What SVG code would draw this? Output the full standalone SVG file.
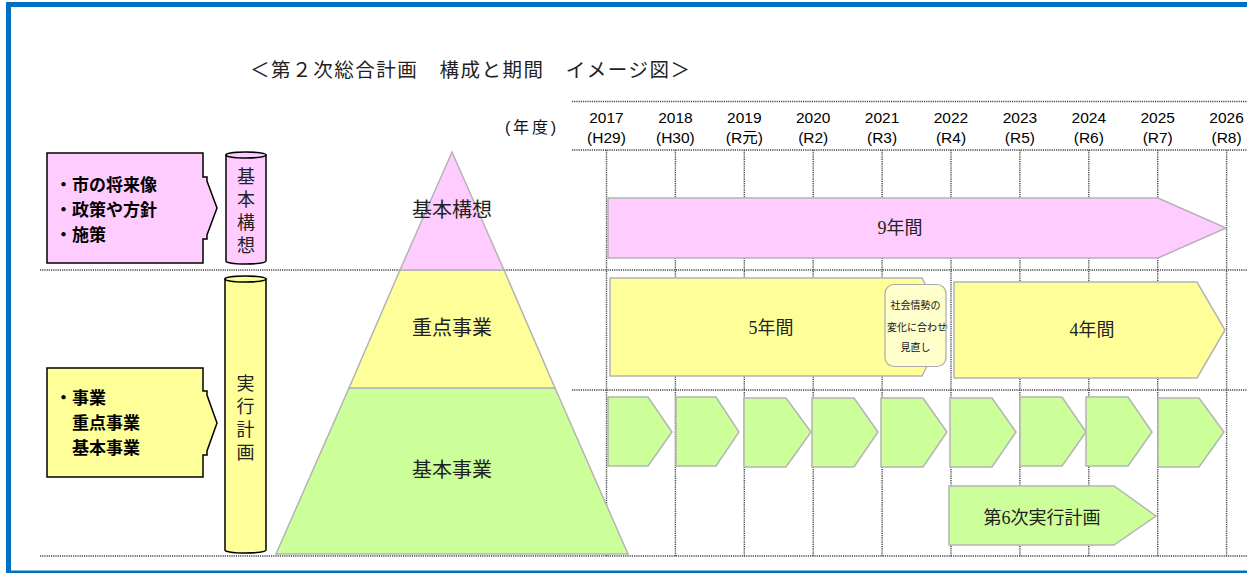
<svg xmlns="http://www.w3.org/2000/svg" width="1247" height="573" viewBox="0 0 1247 573">
<style>
.grid{stroke:#444;stroke-width:1.4;stroke-dasharray:1.2 1;fill:none}
.sh{stroke:#b4b4b4;stroke-width:1.5}
.pink{fill:#ffccff}.yel{fill:#ffff99}.grn{fill:#ccff99}
.box{stroke:#000;stroke-width:1.5}
.min{font-family:"Liberation Serif","Noto Sans CJK JP",serif;fill:#222}
.goth{font-family:"Liberation Sans","Noto Sans CJK JP",sans-serif;fill:#111}
.yr{font-family:"Liberation Sans","Noto Sans CJK JP",sans-serif;font-size:15.5px;fill:#000;text-anchor:middle}
.bold{font-family:"Noto Sans CJK JP",sans-serif;font-weight:700;font-size:17px;fill:#000}
.mid{text-anchor:middle}
</style>
<rect x="8.5" y="4.5" width="1300" height="568.5" fill="#fff" stroke="#0070c0" stroke-width="5"/>
<text id="title" class="min" x="250" y="77" font-size="19.5" textLength="440" lengthAdjust="spacing">＜第２次総合計画　構成と期間　イメージ図＞</text>
<text id="nendo" class="goth" x="505" y="133" font-size="16" fill="#333" textLength="51" lengthAdjust="spacing">(年度)</text>
<g id="grid">
<line class="grid" x1="572" y1="101.5" x2="1247" y2="101.5"/>
<line class="grid" x1="572" y1="150" x2="1247" y2="150"/>
<line class="grid" x1="40" y1="270" x2="1247" y2="270"/>
<line class="grid" x1="572" y1="390" x2="1247" y2="390"/>
<line class="grid" x1="40" y1="556" x2="1247" y2="556"/>
<line class="grid" x1="606.5" y1="150" x2="606.5" y2="556"/>
<line class="grid" x1="675.4" y1="150" x2="675.4" y2="556"/>
<line class="grid" x1="744.3" y1="150" x2="744.3" y2="556"/>
<line class="grid" x1="813.2" y1="150" x2="813.2" y2="556"/>
<line class="grid" x1="882.1" y1="150" x2="882.1" y2="556"/>
<line class="grid" x1="951" y1="150" x2="951" y2="556"/>
<line class="grid" x1="1019.9" y1="150" x2="1019.9" y2="556"/>
<line class="grid" x1="1088.8" y1="150" x2="1088.8" y2="556"/>
<line class="grid" x1="1157.7" y1="150" x2="1157.7" y2="556"/>
<line class="grid" x1="1226.6" y1="150" x2="1226.6" y2="556"/>
</g>
<g id="years">
<text class="yr" x="606.5" y="123">2017</text><text class="yr" x="606.5" y="143">(H29)</text>
<text class="yr" x="675.4" y="123">2018</text><text class="yr" x="675.4" y="143">(H30)</text>
<text class="yr" x="744.3" y="123">2019</text><text class="yr" x="744.3" y="143">(R元)</text>
<text class="yr" x="813.2" y="123">2020</text><text class="yr" x="813.2" y="143">(R2)</text>
<text class="yr" x="882.1" y="123">2021</text><text class="yr" x="882.1" y="143">(R3)</text>
<text class="yr" x="951" y="123">2022</text><text class="yr" x="951" y="143">(R4)</text>
<text class="yr" x="1019.9" y="123">2023</text><text class="yr" x="1019.9" y="143">(R5)</text>
<text class="yr" x="1088.8" y="123">2024</text><text class="yr" x="1088.8" y="143">(R6)</text>
<text class="yr" x="1157.7" y="123">2025</text><text class="yr" x="1157.7" y="143">(R7)</text>
<text class="yr" x="1226.6" y="123">2026</text><text class="yr" x="1226.6" y="143">(R8)</text>
</g>
<g id="box-kihonkoso">
<path class="pink box" d="M47,153 H203 V177 H207 V181 L217,208 L207,235 V239 H203 V263 H47 Z"/>
<text class="bold" x="55" y="191">・市の将来像</text>
<text class="bold" x="55" y="216">・政策や方針</text>
<text class="bold" x="55" y="241">・施策</text>
</g>
<g id="box-jikko">
<path class="yel box" d="M47,368 H203 V391 H207 V395 L217,423 L207,451 V455 H203 V477 H47 Z"/>
<text class="bold" x="55" y="404">・事業</text>
<text class="bold" x="72" y="429">重点事業</text>
<text class="bold" x="72" y="454">基本事業</text>
</g>
<g id="cyl-kihonkoso">
<path class="pink box" d="M226,155 V261 A20,3 0 0 0 266,261 V155 Z"/>
<ellipse class="pink box" cx="246" cy="155" rx="20" ry="3"/>
<text class="min mid" font-size="18" fill="#333"><tspan x="246" y="183">基</tspan><tspan x="246" y="206">本</tspan><tspan x="246" y="229">構</tspan><tspan x="246" y="252">想</tspan></text>
</g>
<g id="cyl-jikko">
<path class="yel box" d="M225,279 V550 A20.5,3 0 0 0 266,550 V279 Z"/>
<ellipse class="yel box" cx="245.5" cy="279" rx="20.5" ry="3"/>
<text class="min mid" font-size="18" fill="#333"><tspan x="245.5" y="390">実</tspan><tspan x="245.5" y="413">行</tspan><tspan x="245.5" y="436">計</tspan><tspan x="245.5" y="459">画</tspan></text>
</g>
<g id="pyramid">
<polygon class="grn sh" points="349,388 555,388 628,554 276,554"/>
<polygon class="yel sh" points="400,270 504,270 555,388 349,388"/>
<polygon class="pink sh" points="452,152 504,270 400,270"/>
<text class="min mid" x="452" y="217" font-size="20">基本構想</text>
<text class="min mid" x="452" y="335" font-size="20">重点事業</text>
<text class="min mid" x="452" y="477" font-size="20">基本事業</text>
</g>
<g id="arrow-9">
<polygon class="pink sh" points="608,198 1158,198 1226,228 1158,258 608,258"/>
<text class="min mid" x="900" y="234" font-size="18">9年間</text>
</g>
<g id="arrow-5">
<polygon class="yel sh" points="610,278 922,278 947,327 922,376 610,376"/>
<text class="min mid" x="771" y="334" font-size="18">5年間</text>
</g>
<g id="arrow-4">
<polygon class="yel sh" points="954,282 1197,282 1225,330 1197,378 954,378"/>
<text class="min mid" x="1092" y="336" font-size="18">4年間</text>
</g>
<g id="callout">
<rect x="885" y="284.5" width="61" height="82" rx="9" fill="#ffffcc" stroke="#aaa" stroke-width="1.2"/>
<text class="goth mid" font-size="10" fill="#555"><tspan x="915.5" y="309">社会情勢の</tspan><tspan x="917" y="331">変化に合わせ</tspan><tspan x="915.5" y="351">見直し</tspan></text>
</g>
<g id="annual">
<polygon class="grn sh" points="608,397 648,397 672,432 648,466 608,466"/>
<polygon class="grn sh" points="676,397 716,397 739,432 716,466 676,466"/>
<polygon class="grn sh" points="744,398 786,398 811,432 786,467 744,467"/>
<polygon class="grn sh" points="812,398 854,398 878,432 854,467 812,467"/>
<polygon class="grn sh" points="881,398 923,398 947,432 923,467 881,467"/>
<polygon class="grn sh" points="950,398 992,398 1016,432 992,467 950,467"/>
<polygon class="grn sh" points="1020,397 1062,397 1086,432 1062,466 1020,466"/>
<polygon class="grn sh" points="1086,397 1128,397 1152,432 1128,466 1086,466"/>
<polygon class="grn sh" points="1158,398 1199,398 1224,432 1199,467 1158,467"/>
</g>
<g id="arrow-6th">
<polygon class="grn sh" points="949,486 1114,486 1156,516 1114,545 949,545"/>
<text class="min mid" x="1042" y="524" font-size="18">第6次実行計画</text>
</g>
<g id="connectors"/>
</svg>
